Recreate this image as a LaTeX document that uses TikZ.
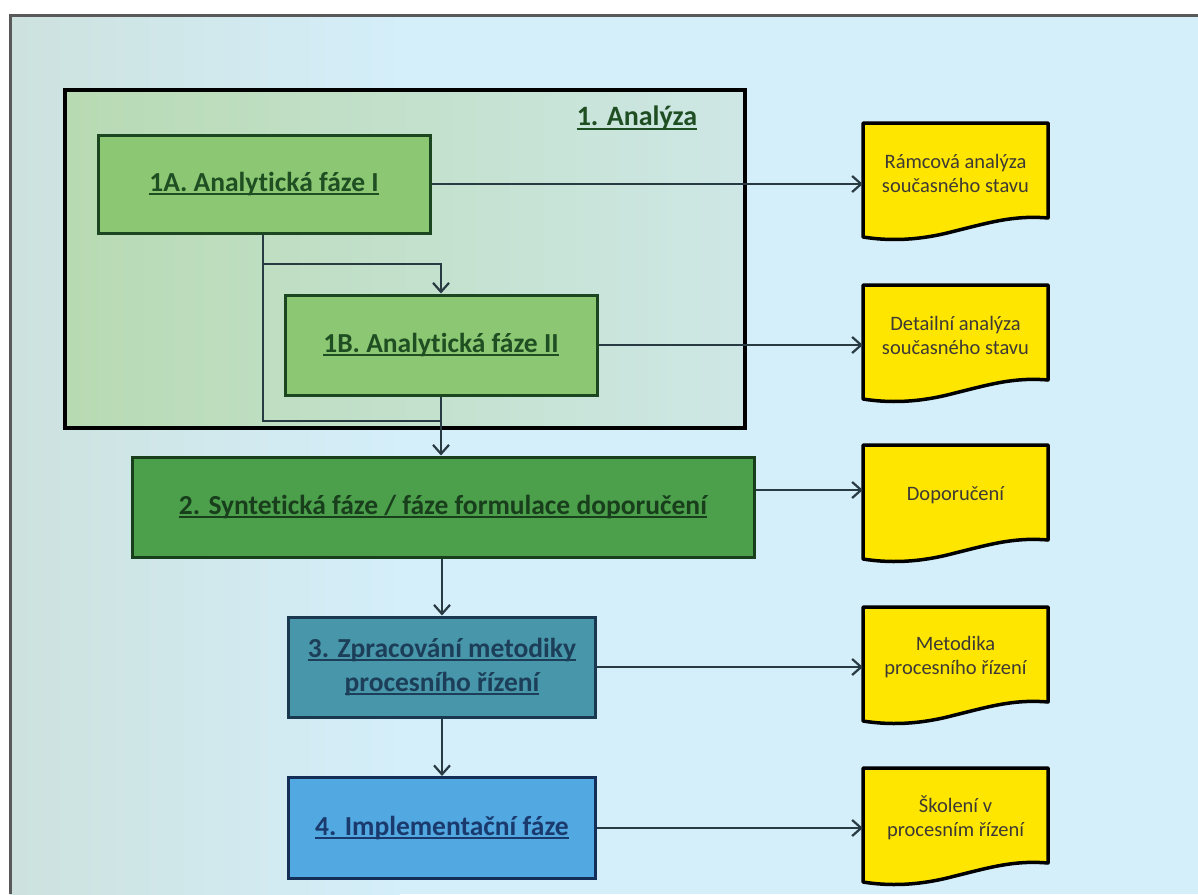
\documentclass[tikz,border=0pt]{standalone}
\usepackage{fontspec}
\setmainfont{Carlito}[Ligatures=NoCommon]
\usetikzlibrary{arrows.meta}

\definecolor{bgblue}{RGB}{212,238,250}
\definecolor{bggrey}{RGB}{205,226,222}
\definecolor{analeft}{RGB}{184,218,178}
\definecolor{anaright}{RGB}{206,231,230}
\definecolor{greenlight}{RGB}{140,200,115}
\definecolor{greendark}{RGB}{76,160,76}
\definecolor{tealbox}{RGB}{72,150,170}
\definecolor{bluebox}{RGB}{82,168,224}
\definecolor{docyellow}{RGB}{255,230,0}
\definecolor{txtgreen}{RGB}{30,78,34}
\definecolor{txtteal}{RGB}{28,62,88}
\definecolor{txtblue}{RGB}{26,58,110}
\definecolor{flowline}{RGB}{40,58,66}

\newcommand{\ulin}[1]{\setbox0\hbox{#1}\rlap{\rule[-4pt]{\wd0}{2pt}}\box0}

\tikzset{
  phasebox/.style={draw=#1, line width=3pt, inner sep=0pt, align=center,
    font=\bfseries\fontsize{27.5}{34}\selectfont},
  docnode/.style={minimum width=185pt, minimum height=100pt, inner sep=0pt,
    align=center, text=black!80!yellow!60!black, font=\fontsize{20.5}{24}\selectfont},
  docshape/.style={fill=docyellow, draw=black, line width=3.5pt, line join=round},
  flow/.style={draw=flowline, line width=2.2pt, -{Straight Barb[length=9pt,width=16pt,line width=2.2pt]}},
  link/.style={draw=flowline, line width=2.2pt}
}

\begin{document}
\begin{tikzpicture}[x=1pt, y=-1pt]
  \useasboundingbox (0,0) rectangle (1198,894);
  % background
  \fill[white] (0,0) rectangle (1198,894);
  \fill[bgblue] (10,15) rectangle (1198,894);
  \shade[left color=bggrey, right color=bgblue] (10,15) rectangle (400,894);
  \draw[line width=3pt, draw=black!65] (10,894) -- (10,15) -- (1198,15);

  % 1. Analyza
  \node[draw=black, line width=3.5pt, left color=analeft, right color=anaright,
    minimum width=680pt, minimum height=338pt] (ana) at (405,259) {};
  \node[text=txtgreen, font=\bfseries\fontsize{28}{32}\selectfont] (analab) at (637,118) {\ulin{1. Analýza}};

  \node[phasebox=txtgreen!90!black, fill=greenlight, text=txtgreen,
    minimum width=332pt, minimum height=98pt] (p1a) at (264,184) {\ulin{1A. Analytická fáze I}};
  \node[phasebox=txtgreen!90!black, fill=greenlight, text=txtgreen,
    minimum width=312pt, minimum height=100pt] (p1b) at (441,345) {\ulin{1B. Analytická fáze II}};

  % phases 2 - 4
  \node[phasebox=txtgreen!80!black, fill=greendark, text=txtgreen!80!black,
    minimum width=622pt, minimum height=100pt] (p2) at (443,507) {\ulin{2. Syntetická fáze / fáze formulace doporučení}};
  \node[phasebox=txtteal!90!black, fill=tealbox, text=txtteal,
    minimum width=307pt, minimum height=100pt] (p3) at (442,667) {\ulin{3. Zpracování metodiky}\\\ulin{procesního řízení}};
  \node[phasebox=txtblue!80!black, fill=bluebox, text=txtblue,
    minimum width=307pt, minimum height=101pt] (p4) at (442,828) {\ulin{4. Implementační fáze}};

  % outputs
  \foreach \n/\y/\t in {d1/123/{Rámcová analýza\\současného stavu},
                       d2/285/{Detailní analýza\\současného stavu},
                       d3/445/{Doporučení},
                       d4/607/{Metodika\\procesního řízení},
                       d5/768/{Školení v\\procesním řízení}} {
    \begin{scope}[shift={(863,\y)}]
      \filldraw[docshape] (0,0) -- (185,0) -- (185,95)
        .. controls (150,92) and (125,100) .. (92,108)
        .. controls (55,118) and (25,118) .. (0,114) -- cycle;
      \node[docnode] (\n) at (92.5,50) {\t};
    \end{scope}
  }

  % connectors
  \coordinate (j1) at (263,264);
  \coordinate (j2) at (263,421);
  \draw[link] (p1a.south -| j1) -- (j2) -- (j2 -| p1b.south);
  \draw[flow] (j1) -| (p1b.north);
  \draw[flow] (p1b.south) -- (p2.north -| p1b.south);
  \draw[flow] (p2.south -| p3.north) -- (p3.north);
  \draw[flow] (p3.south) -- (p4.north);

  \draw[flow] (p1a.east) -- (p1a.east -| d1.west);
  \draw[flow] (p1b.east) -- (p1b.east -| d2.west);
  \draw[flow] ([yshift=17pt]p2.east) -- ([yshift=17pt]p2.east -| d3.west);
  \draw[flow] (p3.east) -- (p3.east -| d4.west);
  \draw[flow] (p4.east) -- (p4.east -| d5.west);
\end{tikzpicture}
\end{document}
